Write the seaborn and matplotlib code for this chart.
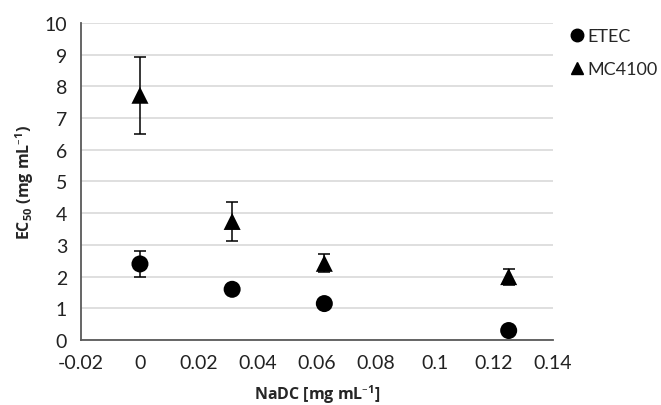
import numpy as np
import pandas as pd
import matplotlib
matplotlib.use("Agg")
import matplotlib.pyplot as plt
from matplotlib.ticker import FuncFormatter, MultipleLocator
from matplotlib.lines import Line2D
import seaborn as sns

# NaDC concentration [mg/mL]
nadc = [0, 0.03125, 0.0625, 0.125]

# EC50 values and error (half-range) per strain
etec_ec50 = [2.4, 1.6, 1.15, 0.3]
etec_err = [0.4, 0.1, 0.1, 0.05]
mc4100_ec50 = [7.72, 3.74, 2.42, 2.0]
mc4100_err = [1.22, 0.62, 0.28, 0.25]

strains = ["ETEC", "MC4100"]


def build_frame():
    df = pd.DataFrame({
        "NaDC": nadc * 2,
        "EC50": etec_ec50 + mc4100_ec50,
        "err": etec_err + mc4100_err,
        "strain": ["ETEC"] * len(nadc) + ["MC4100"] * len(nadc),
    })
    return df


def main():
    sns.set_style("white")
    plt.rcParams["font.family"] = ["Lato", "DejaVu Sans"]
    plt.rcParams["mathtext.default"] = "regular"
    plt.rcParams["axes.unicode_minus"] = False

    df = build_frame()

    fig = plt.figure(figsize=(6.61, 4.06), dpi=100)
    ax = fig.add_axes([0.1225, 0.16, 0.714, 0.781])

    # error bars first so markers sit on top
    for s in strains:
        sub = df[df["strain"] == s]
        ax.errorbar(sub["NaDC"], sub["EC50"], yerr=sub["err"], fmt="none",
                    ecolor="black", elinewidth=1.1, capsize=4, capthick=1.1, zorder=2)

    sns.scatterplot(data=df, x="NaDC", y="EC50", style="strain",
                    markers={"ETEC": "o", "MC4100": "^"}, color="black",
                    s=150, edgecolor="black", linewidth=0, legend=False,
                    ax=ax, zorder=3)

    ax.set_xlim(-0.02, 0.14)
    ax.set_ylim(0, 10)
    ax.xaxis.set_major_locator(MultipleLocator(0.02))
    ax.yaxis.set_major_locator(MultipleLocator(1))
    ax.xaxis.set_major_formatter(FuncFormatter(lambda v, p: f"{round(v, 3):g}"))

    ax.grid(axis="y", color="#d9d9d9", linewidth=1.2)
    ax.set_axisbelow(True)
    for side in ["top", "right"]:
        ax.spines[side].set_visible(False)
    for side in ["left", "bottom"]:
        ax.spines[side].set_color("#595959")
        ax.spines[side].set_linewidth(1.3)
    ax.tick_params(axis="both", direction="out", length=5, width=1.3,
                   color="#595959", labelsize=14, labelcolor="#222222", pad=5)

    label_font = dict(fontsize=11.5, fontweight="bold", family=["Open Sans", "DejaVu Sans"])
    ax.set_xlabel("NaDC [mg mL$^{\u2013 1}$]", labelpad=8, **label_font)
    ax.set_ylabel("EC$_{50}$ (mg mL$^{\u2013 1}$)", labelpad=6, **label_font)

    handles = [
        Line2D([], [], marker="o", color="black", linestyle="none", markersize=9),
        Line2D([], [], marker="^", color="black", linestyle="none", markersize=9),
    ]
    fig.legend(handles, strains, loc="upper left", bbox_to_anchor=(0.843, 0.955),
               frameon=False, fontsize=13, handletextpad=0.05, labelspacing=0.95,
               handlelength=1.0, borderaxespad=0.2)

    fig.savefig("out.png", dpi=100)


if __name__ == "__main__":
    main()
